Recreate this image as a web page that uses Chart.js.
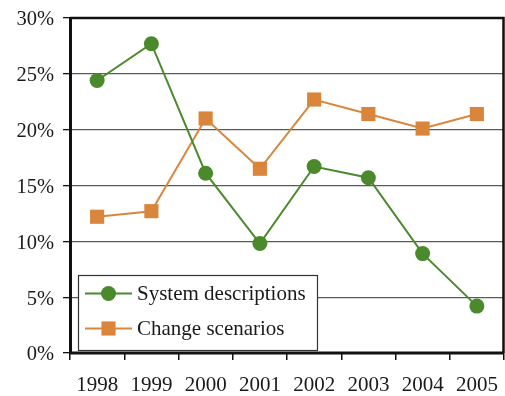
<!DOCTYPE html>
<html>
<head>
<meta charset="utf-8">
<script src="https://cdn.jsdelivr.net/npm/chart.js@4/dist/chart.umd.min.js"></script>
<style>
  html, body { margin: 0; padding: 0; background: #fff; }
  #wrap { width: 505px; height: 396px; }
</style>
</head>
<body>
<div id="wrap"><canvas id="chart" width="505" height="396"></canvas></div>
<script>
// Share of documents per year, in percent
const years = ['1998', '1999', '2000', '2001', '2002', '2003', '2004', '2005'];
const systemDescriptions = [24.4, 27.7, 16.1, 9.8, 16.7, 15.7, 8.9, 4.2];
const changeScenarios = [12.2, 12.7, 21.0, 16.5, 22.7, 21.4, 20.1, 21.4];
const yTicks = [0, 5, 10, 15, 20, 25, 30];

const GREEN = '#4a8a2c';
const ORANGE = '#d9863c';
const FONT = "'Liberation Serif', 'Times New Roman', serif";
const TEXT = '#1a1a1a';

// Black frame around the plotting area
const frame = {
  id: 'frame',
  beforeDatasetsDraw(chart) {
    const { ctx, chartArea: a } = chart;
    ctx.save();
    ctx.strokeStyle = '#111';
    ctx.lineWidth = 2.5;
    ctx.beginPath();
    ctx.moveTo(a.left, a.top);
    ctx.lineTo(a.right - 0.5, a.top);
    ctx.lineTo(a.right - 0.5, a.bottom);
    ctx.stroke();
    ctx.lineWidth = 3;
    ctx.beginPath();
    ctx.moveTo(a.left + 0.5, a.top - 1);
    ctx.lineTo(a.left + 0.5, a.bottom);
    ctx.lineTo(a.right, a.bottom);
    ctx.stroke();
    ctx.restore();
  }
};

// Boxed legend in the lower-left corner of the plot
const boxLegend = {
  id: 'boxLegend',
  afterDatasetsDraw(chart) {
    const { ctx, chartArea: a } = chart;
    const w = 239, h = 75;
    const x = a.left + 8, y = a.bottom - 3 - h;
    ctx.save();
    ctx.fillStyle = '#fff';
    ctx.fillRect(x, y, w, h);
    ctx.strokeStyle = '#333';
    ctx.lineWidth = 1.2;
    ctx.strokeRect(x + 0.5, y + 0.5, w, h);
    chart.data.datasets.forEach((ds, i) => {
      const cy = y + 18.5 + i * 35;
      const mx = x + 30.5;
      ctx.strokeStyle = ds.borderColor;
      ctx.lineWidth = 2;
      ctx.beginPath();
      ctx.moveTo(x + 7, cy);
      ctx.lineTo(x + 54, cy);
      ctx.stroke();
      ctx.fillStyle = ds.pointBackgroundColor;
      ctx.beginPath();
      if (ds.pointStyle === 'rect') {
        const s = ds.pointRadius * Math.SQRT1_2;
        ctx.rect(mx - s, cy - s, 2 * s, 2 * s);
      } else {
        ctx.arc(mx, cy, ds.pointRadius, 0, Math.PI * 2);
      }
      ctx.fill();
      ctx.fillStyle = TEXT;
      ctx.font = '21px ' + FONT;
      ctx.textBaseline = 'middle';
      ctx.textAlign = 'left';
      ctx.fillText(ds.label, x + 59, cy + 1);
    });
    ctx.restore();
  }
};

function noScalePadding(scale) {
  scale.paddingLeft = 0;
  scale.paddingRight = 0;
  scale.paddingTop = 0;
  scale.paddingBottom = 0;
}

new Chart(document.getElementById('chart'), {
  type: 'line',
  data: {
    labels: years,
    datasets: [
      {
        label: 'System descriptions',
        data: systemDescriptions,
        borderColor: GREEN,
        backgroundColor: GREEN,
        pointBackgroundColor: GREEN,
        pointBorderColor: GREEN,
        borderWidth: 2,
        pointStyle: 'circle',
        pointRadius: 7.5,
        pointBorderWidth: 0,
        pointHoverRadius: 7.5,
        tension: 0
      },
      {
        label: 'Change scenarios',
        data: changeScenarios,
        borderColor: ORANGE,
        backgroundColor: ORANGE,
        pointBackgroundColor: ORANGE,
        pointBorderColor: ORANGE,
        borderWidth: 2,
        pointStyle: 'rect',
        pointRadius: 10,
        pointBorderWidth: 0,
        pointHoverRadius: 10,
        tension: 0
      }
    ]
  },
  options: {
    responsive: false,
    animation: false,
    devicePixelRatio: 1,
    layout: { autoPadding: false, padding: { top: 18, right: 1, left: 0, bottom: 0 } },
    plugins: {
      legend: { display: false },
      tooltip: { enabled: false }
    },
    scales: {
      x: {
        offset: true,
        grid: {
          offset: true,
          drawOnChartArea: false,
          drawTicks: true,
          tickLength: 7,
          tickColor: '#111',
          lineWidth: 1.5
        },
        border: { display: false },
        ticks: {
          color: TEXT,
          font: { family: FONT, size: 21 },
          padding: 13,
          maxRotation: 0
        },
        afterFit(scale) { scale.height = 43; noScalePadding(scale); }
      },
      y: {
        min: 0,
        max: 30,
        afterBuildTicks(scale) { scale.ticks = yTicks.map(v => ({ value: v })); },
        grid: {
          color: '#5a5a5a',
          lineWidth: 1.3,
          drawTicks: true,
          tickLength: 7,
          tickColor: '#111'
        },
        border: { display: false },
        ticks: {
          color: TEXT,
          font: { family: FONT, size: 20.5 },
          padding: 9,
          labelOffset: 2,
          callback: v => v + '%'
        },
        afterFit(scale) { scale.width = 70; noScalePadding(scale); }
      }
    }
  },
  plugins: [frame, boxLegend]
});
</script>
</body>
</html>
